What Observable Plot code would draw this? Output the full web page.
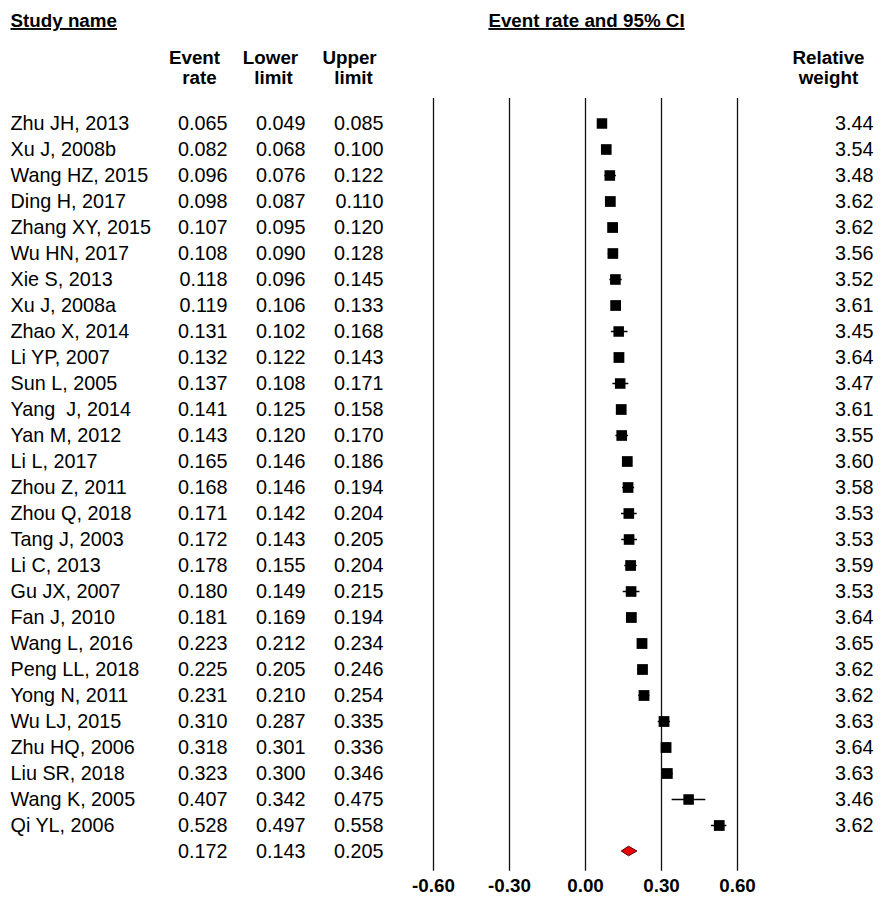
<!DOCTYPE html>
<html><head><meta charset="utf-8">
<script src="https://cdn.jsdelivr.net/npm/d3@7"></script>
<script src="https://cdn.jsdelivr.net/npm/@observablehq/plot@0.6"></script>
<style>body{margin:0;background:#fff;} svg{display:block;}</style>
</head><body><div id="chart"></div>
<script>
const studies = ["Zhu JH, 2013","Xu J, 2008b","Wang HZ, 2015","Ding H, 2017","Zhang XY, 2015","Wu HN, 2017","Xie S, 2013","Xu J, 2008a","Zhao X, 2014","Li YP, 2007","Sun L, 2005","Yang  J, 2014","Yan M, 2012","Li L, 2017","Zhou Z, 2011","Zhou Q, 2018","Tang J, 2003","Li C, 2013","Gu JX, 2007","Fan J, 2010","Wang L, 2016","Peng LL, 2018","Yong N, 2011","Wu LJ, 2015","Zhu HQ, 2006","Liu SR, 2018","Wang K, 2005","Qi YL, 2006"];
const eventRate = [0.065,0.082,0.096,0.098,0.107,0.108,0.118,0.119,0.131,0.132,0.137,0.141,0.143,0.165,0.168,0.171,0.172,0.178,0.180,0.181,0.223,0.225,0.231,0.310,0.318,0.323,0.407,0.528];
const lowerLimit = [0.049,0.068,0.076,0.087,0.095,0.090,0.096,0.106,0.102,0.122,0.108,0.125,0.120,0.146,0.146,0.142,0.143,0.155,0.149,0.169,0.212,0.205,0.210,0.287,0.301,0.300,0.342,0.497];
const upperLimit = [0.085,0.100,0.122,0.110,0.120,0.128,0.145,0.133,0.168,0.143,0.171,0.158,0.170,0.186,0.194,0.204,0.205,0.204,0.215,0.194,0.234,0.246,0.254,0.335,0.336,0.346,0.475,0.558];
const relWeight = [3.44,3.54,3.48,3.62,3.62,3.56,3.52,3.61,3.45,3.64,3.47,3.61,3.55,3.60,3.58,3.53,3.53,3.59,3.53,3.64,3.65,3.62,3.62,3.63,3.64,3.63,3.46,3.62];
const summaryKey = "Overall";
const summaryRate = 0.172, summaryLower = 0.143, summaryUpper = 0.205;
const xTicks = [-0.6, -0.3, 0, 0.3, 0.6];
const colHeadersTop = ["Event", "Lower", "Upper"];
const colHeadersBottom = ["rate", "limit", "limit"];
const titleStudy = "Study name";
const titleCI = "Event rate and 95% CI";
const weightHeader = ["Relative", "weight"];

const rows = studies.map((s, i) => ({study: s, rate: eventRate[i], lower: lowerLimit[i], upper: upperLimit[i], weight: relWeight[i]}));
const tableRows = [...rows, {study: summaryKey, rate: summaryRate, lower: summaryLower, upper: summaryUpper, weight: null}];

const ML = 433, MT = 115;
const font = "'Liberation Sans', Arial, sans-serif";
const f3 = d => d.toFixed(3);

function diamond(index, scales) {
  const x = scales.x, y = scales.y;
  const cy = y(summaryKey);
  const pts = [[x(summaryLower), cy], [x(summaryRate), cy - 4.8], [x(summaryUpper), cy], [x(summaryRate), cy + 4.8]];
  const g = document.createElementNS("http://www.w3.org/2000/svg", "g");
  const p = document.createElementNS("http://www.w3.org/2000/svg", "polygon");
  p.setAttribute("points", pts.map(d => d.join(",")).join(" "));
  p.setAttribute("fill", "#e8000a");
  p.setAttribute("stroke", "#5a0000");
  p.setAttribute("stroke-width", "1");
  g.appendChild(p);
  return g;
}

const hdr = (text, px, py, opts = {}) => Plot.text([text], {text: d => d, frameAnchor: "top-left", dx: px - ML, dy: py - MT, fontWeight: "bold", fontSize: 18.8, textAnchor: "middle", lineAnchor: "middle", ...opts});

const chart = Plot.plot({
  width: 885,
  height: 915,
  marginLeft: ML,
  marginRight: 148,
  marginTop: MT,
  marginBottom: 915 - 858.4,
  style: {fontFamily: font, fontSize: "19.8px", color: "#000", background: "#fff", overflow: "visible"},
  x: {domain: [-0.6, 0.6], axis: null},
  y: {type: "point", domain: tableRows.map(d => d.study), padding: 0, axis: null},
  r: {type: "sqrt", domain: [0, 3.65], range: [0, 6.1]},
  marks: [
    Plot.ruleX(xTicks, {stroke: "#111", strokeWidth: 1.3, insetTop: -17, insetBottom: -12.3}),
    Plot.ruleY(rows, {y: "study", x1: "lower", x2: "upper", stroke: "#000", strokeWidth: 1.5}),
    Plot.dot(rows, {y: "study", x: "rate", r: "weight", symbol: "square", fill: "#000", stroke: null}),
    diamond,
    Plot.text(rows, {y: "study", text: "study", frameAnchor: "left", dx: 10 - ML, textAnchor: "start"}),
    Plot.text(tableRows, {y: "study", text: d => f3(d.rate), frameAnchor: "left", dx: 227 - ML, textAnchor: "end"}),
    Plot.text(tableRows, {y: "study", text: d => f3(d.lower), frameAnchor: "left", dx: 305 - ML, textAnchor: "end"}),
    Plot.text(tableRows, {y: "study", text: d => f3(d.upper), frameAnchor: "left", dx: 383 - ML, textAnchor: "end"}),
    Plot.text(rows, {y: "study", text: d => d.weight.toFixed(2), frameAnchor: "right", dx: 873 - 737, textAnchor: "end"}),
    Plot.text(xTicks, {x: d => d, text: d => d.toFixed(2), frameAnchor: "bottom", dy: 891 - 858.4, fontWeight: "bold", fontSize: 18.8}),
    hdr(titleStudy, 10, 20.5, {textAnchor: "start", ariaDescription: "title-underline"}),
    hdr(titleCI, 586, 20.5, {ariaDescription: "title-underline"}),
    ...colHeadersTop.map((t, i) => hdr(t, [194, 270, 349][i], 57.5)),
    ...colHeadersBottom.map((t, i) => hdr(t, [199, 273, 353][i], 77)),
    hdr(weightHeader[0], 828, 57.5),
    hdr(weightHeader[1], 828, 77)
  ]
});
chart.querySelectorAll('[aria-description="title-underline"]').forEach(el => {
  const texts = el.tagName.toLowerCase() === "text" ? [el] : el.querySelectorAll("text");
  texts.forEach(t => { t.style.textDecoration = "underline"; });
});
document.getElementById("chart").appendChild(chart);
</script>
</body></html>
